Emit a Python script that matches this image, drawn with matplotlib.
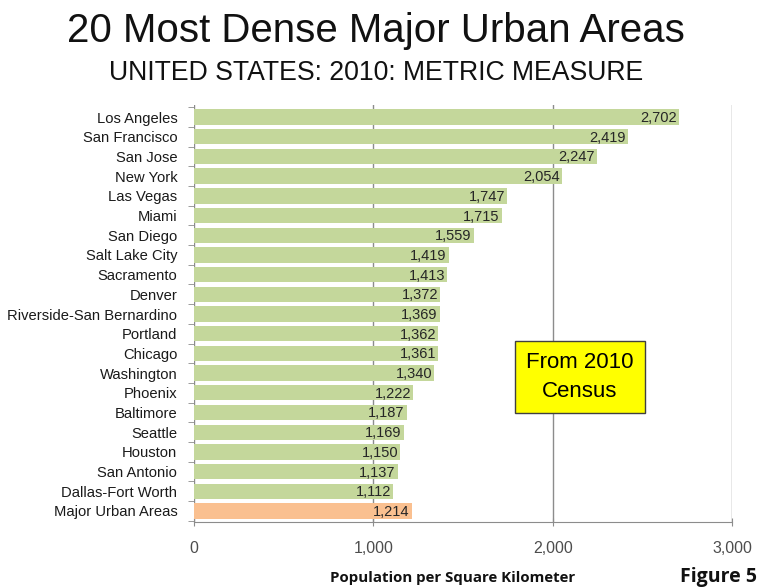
import matplotlib.pyplot as plt
from matplotlib.ticker import FixedLocator, FuncFormatter

plt.rcParams["font.family"] = ["Liberation Sans", "DejaVu Sans"]

areas = [
    "Los Angeles", "San Francisco", "San Jose", "New York", "Las Vegas",
    "Miami", "San Diego", "Salt Lake City", "Sacramento", "Denver",
    "Riverside-San Bernardino", "Portland", "Chicago", "Washington",
    "Phoenix", "Baltimore", "Seattle", "Houston", "San Antonio",
    "Dallas-Fort Worth", "Major Urban Areas",
]
density = [
    2702, 2419, 2247, 2054, 1747, 1715, 1559, 1419, 1413, 1372,
    1369, 1362, 1361, 1340, 1222, 1187, 1169, 1150, 1137, 1112, 1214,
]
x_ticks = [0, 1000, 2000, 3000]

GREEN = "#c4d79b"
ORANGE = "#fac090"
GRID = "#8c8c8c"

fig = plt.figure(figsize=(7.67, 5.88), dpi=100)
ax = fig.add_axes([0.2529, 0.1122, 0.7016, 0.7092])

ypos = list(range(len(areas)))
colors = [GREEN] * (len(areas) - 1) + [ORANGE]
ax.barh(ypos, density, height=0.78, color=colors, zorder=2)

for y, v in zip(ypos, density):
    ax.text(v - 12, y + 0.05, f"{v:,}", ha="right", va="center",
            fontsize=10.5, color="#262626", zorder=3)

ax.set_xlim(0, 3000)
ax.set_ylim(len(areas) - 0.44, -0.61)
ax.xaxis.set_major_locator(FixedLocator(x_ticks))
ax.xaxis.set_major_formatter(FuncFormatter(lambda v, _: f"{int(v):,}"))
ax.grid(axis="x", color=GRID, linewidth=1, zorder=1)
ax.tick_params(axis="x", direction="inout", length=6, color=GRID,
               labelsize=11.5, labelcolor="#4d4d4d", pad=11)

ax.set_yticks(ypos)
ax.set_yticklabels(areas, fontsize=10.6, color="#1a1a1a")
ax.yaxis.set_minor_locator(FixedLocator([y - 0.5 for y in ypos] + [len(areas) - 0.5]))
ax.tick_params(axis="y", which="major", length=0, pad=12)
ax.tick_params(axis="y", which="minor", length=4, color=GRID)

for side in ("top", "right", "left"):
    ax.spines[side].set_visible(False)
ax.spines["bottom"].set_color(GRID)

ax.text(0.717, 0.348, "From 2010\nCensus", transform=ax.transAxes,
        ha="center", va="center", fontsize=16, linespacing=1.45, zorder=4,
        bbox=dict(boxstyle="square,pad=0.5", facecolor="#ffff00",
                  edgecolor="#404040", linewidth=1))

fig.text(0.4902, 0.948, "20 Most Dense Major Urban Areas", ha="center",
         va="center", fontsize=29, color="#111111")
fig.text(0.4902, 0.876, "UNITED STATES: 2010: METRIC MEASURE", ha="center",
         va="center", fontsize=19.2, color="#111111")
fig.text(0.5906, 0.017, "Population per Square Kilometer", ha="center",
         va="center", fontsize=10.8, fontweight="bold", family="Open Sans",
         color="#111111")
fig.text(0.887, 0.002, "Figure 5", ha="left", va="bottom", fontsize=14,
         fontweight="bold", family="Open Sans", color="#111111")

fig.savefig("out.png", dpi=100)
